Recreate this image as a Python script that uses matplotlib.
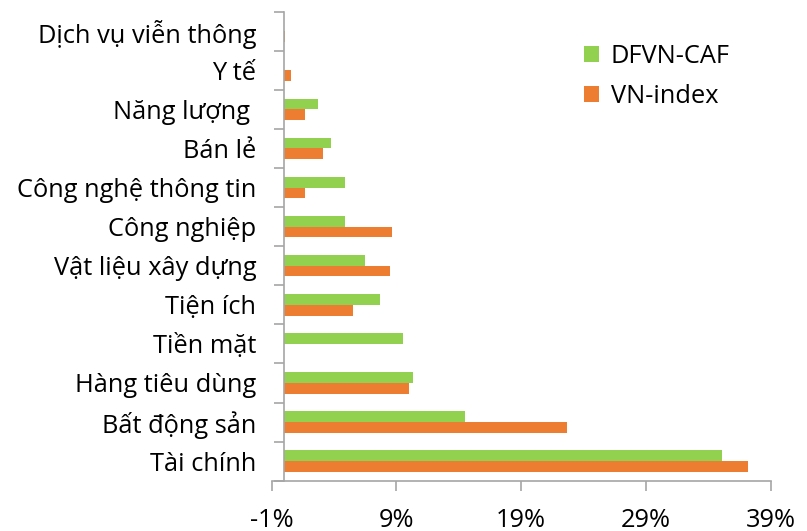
import matplotlib
matplotlib.use("Agg")
import matplotlib.pyplot as plt
import numpy as np
from matplotlib.ticker import FixedLocator, FuncFormatter

categories = ["Dịch vụ viễn thông", "Y tế", "Năng lượng ", "Bán lẻ",
              "Công nghệ thông tin", "Công nghiệp", "Vật liệu xây dựng",
              "Tiện ích", "Tiền mặt", "Hàng tiêu dùng", "Bất động sản", "Tài chính"]
dfvn = [0.0, 0.0, 2.7, 3.75, 4.9, 4.9, 6.45, 7.65, 9.5, 10.3, 14.5, 35.1]
vnindex = [0.08, 0.57, 1.7, 3.1, 1.7, 8.67, 8.5, 5.55, 0.0, 10.0, 22.7, 37.2]
series_names = ["DFVN-CAF", "VN-index"]
xticks = [-1, 9, 19, 29, 39]

plt.rcParams['font.family'] = ['Open Sans', 'DejaVu Sans']

fig = plt.figure(figsize=(8.07, 5.31), dpi=100)
ax = fig.add_axes([271.7/807, 1 - 480.7/531, (770.7-271.7)/807, (480.7-11.7)/531])

green = "#92D050"
orange = "#ED7D31"
n = len(categories)
y = np.arange(n)
h = 0.275
ax.barh(y - h/2, dfvn, height=h, color=green, label=series_names[0])
ax.barh(y + h/2, vnindex, height=h, color=orange, label=series_names[1])

ax.set_ylim(n - 0.5, -0.5)
ax.set_xlim(-1, 39)

ax.spines['top'].set_visible(False)
ax.spines['right'].set_visible(False)
ax.spines['left'].set_position(('data', 0))
for s in ['left', 'bottom']:
    ax.spines[s].set_color('#A6A6A6')
    ax.spines[s].set_linewidth(1.2)

ax.set_yticks(y)
ax.set_yticklabels(categories)
ax.yaxis.set_minor_locator(FixedLocator(np.arange(-0.5, n, 1.0)))
ax.tick_params(axis='y', which='major', length=0, pad=20, labelsize=18.3)
ax.tick_params(axis='y', which='minor', length=7.2, width=1.2, color='#A6A6A6', direction='out')

ax.set_xticks(xticks)
ax.xaxis.set_major_formatter(FuncFormatter(lambda v, p: f"{v:.0f}%"))
ax.tick_params(axis='x', length=7, width=1.2, color='#A6A6A6', direction='out', pad=13, labelsize=18.3)

leg = fig.legend(loc='upper left', bbox_to_anchor=(571/807, 1 - 31/531), frameon=False,
                 fontsize=18.3, handlelength=0.62, handleheight=0.62, handletextpad=0.45,
                 labelspacing=0.6, borderpad=0)

fig.savefig("out.png", dpi=100)
